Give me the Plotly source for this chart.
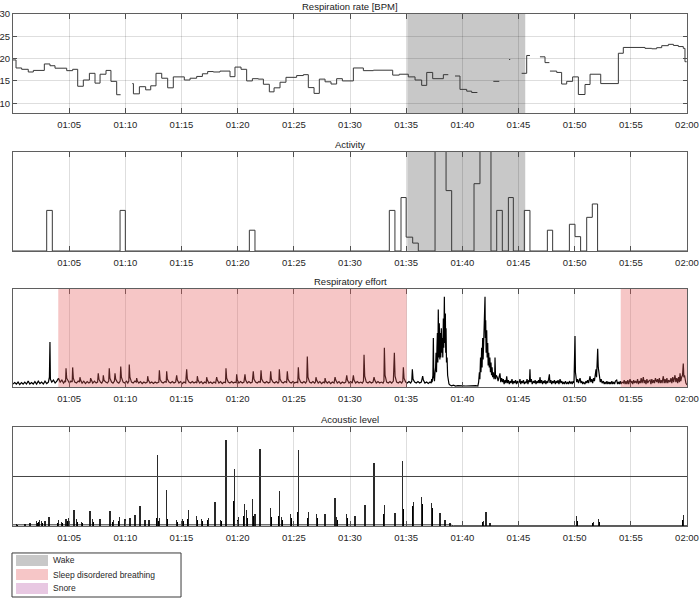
import pandas as pd
import plotly.graph_objects as go

BASE = pd.Timestamp("2021-01-01 01:00:00")


def at(minutes):
    return [BASE + pd.Timedelta(minutes=m) for m in minutes]


# ---------------- data (minutes after 01:00) ----------------
tick_minutes = [5, 10, 15, 20, 25, 30, 35, 40, 45, 50, 55, 60]
resp_ticks = [10, 15, 20, 25, 30]

wake_interval = (35.1, 45.6)
sdb_intervals = [(4.03, 35.05), (54.1, 60.0)]

resp_min = [0.0, 0.27, 0.77, 1.36, 1.81, 2.79, 3.29, 3.74, 4.78, 5.31, 5.76, 6.26, 6.80, 7.30, 7.75,
            8.28, 8.72, 9.23, 9.58, 9.59,
            10.62, 10.72, 11.25, 11.81, 12.26, 12.73, 13.24, 13.77, 14.27, 15.25, 15.76, 16.35, 16.86,
            17.33, 17.83, 18.43, 19.32, 19.76, 20.30, 20.80, 21.31, 21.84, 22.29, 22.82, 23.24, 23.77,
            24.30, 25.25, 25.85, 26.29, 26.80, 27.27, 27.78, 28.31, 28.81, 29.32, 30.30, 31.19, 32.08,
            33.80, 34.39, 35.19, 35.79, 36.38, 36.83, 37.36, 38.31, 38.75, 38.76,
            39.35, 39.79, 40.39, 40.83, 41.34, 41.35,
            42.76, 43.29, 43.30,
            44.16, 44.26, 44.27,
            45.28, 45.73, 46.02, 46.03,
            46.91, 47.36, 47.75, 47.76,
            47.80, 48.40, 48.84, 49.29, 49.82, 50.33, 50.92, 51.37, 52.32, 53.89, 54.33, 56.26, 56.86,
            57.30, 57.75, 58.34, 58.79, 59.23, 59.67, 59.82, 59.97]
resp_bpm = [19.7, 17.9, 17.6, 17.0, 17.35, 18.8, 18.4, 17.85, 17.3, 17.6, 13.8, 15.2, 16.7, 14.5, 16.5,
            17.35, 14.9, 11.9, 11.9, None,
            14.4, 12.1, 13.7, 13.0, 13.9, 16.7, 15.6, 13.45, 15.9, 15.2, 15.6, 16.0, 16.6,
            17.1, 17.0, 17.2, 15.95, 18.1, 17.6, 15.0, 15.5, 15.4, 14.25, 12.55, 13.45, 14.7,
            15.8, 16.2, 16.4, 13.5, 12.2, 15.4, 14.8, 14.3, 15.5, 15.0, 17.9, 17.3, 17.4,
            16.3, 16.5, 15.9, 15.2, 14.0, 16.9, 15.5, 16.4, 16.4, None,
            16.1, 13.1, 12.7, 12.4, 12.4, None,
            14.9, 14.9, None,
            19.8, 19.8, None,
            16.7, 20.7, 20.7, None,
            20.4, 19.1, 19.1, None,
            17.2, 16.9, 14.3, 14.9, 15.9, 11.95, 14.2, 16.5, 14.4, 21.2, 22.5, 22.3, 22.2,
            22.45, 22.9, 23.2, 22.95, 22.7, 22.3, 19.3, 19.3]

activity_min = [0.0, 3.0, 3.5, 9.53, 10.0, 21.04, 21.54, 33.5, 34.0, 34.54, 35.0, 35.58, 36.08,
                37.57, 38.55, 39.05, 41.04, 41.57, 42.55, 43.06, 43.56, 44.1, 44.54, 45.52, 46.02,
                47.57, 48.04, 49.53, 50.03, 50.53, 51.07, 51.57, 52.04, 60.0]
activity_val = [0.0, 0.41, 0.0, 0.41, 0.0, 0.21, 0.0, 0.41, 0.0, 0.54, 0.14, 0.08, 0.0,
                1.5, 0.61, 0.0, 0.68, 1.5, 0.0, 0.41, 0.0, 0.54, 0.0, 0.41, 0.0,
                0.21, 0.0, 0.27, 0.145, 0.0, 0.34, 0.475, 0.0, 0.0]

effort_samples = [
    (0.00, 0.03), (0.15, 0.045), (0.30, 0.03), (0.45, 0.05), (0.60, 0.025), (0.75, 0.045), (0.90, 0.03),
    (1.05, 0.05), (1.20, 0.03), (1.35, 0.06), (1.50, 0.03), (1.65, 0.045), (1.80, 0.03), (1.95, 0.055),
    (2.10, 0.03), (2.25, 0.06), (2.40, 0.035), (2.55, 0.05), (2.70, 0.03), (2.85, 0.06), (3.00, 0.035),
    (3.15, 0.05), (3.24, 0.10), (3.29, 0.46), (3.33, 0.08), (3.45, 0.05), (3.60, 0.07), (3.75, 0.04),
    (3.90, 0.06), (4.05, 0.09), (4.20, 0.05), (4.35, 0.07), (4.50, 0.04), (4.62, 0.06),
    (4.68, 0.05), (4.72, 0.19), (4.78, 0.09), (4.90, 0.06), (5.02, 0.04), (5.15, 0.06), (5.27, 0.05),
    (5.31, 0.20), (5.37, 0.09), (5.50, 0.05), (5.65, 0.04), (5.80, 0.06), (5.92, 0.05),
    (5.96, 0.10), (6.02, 0.07), (6.15, 0.04), (6.30, 0.06), (6.45, 0.035), (6.60, 0.055), (6.75, 0.04), (6.87, 0.05),
    (6.91, 0.09), (6.97, 0.07), (7.10, 0.04), (7.25, 0.06), (7.40, 0.04), (7.53, 0.05),
    (7.59, 0.14), (7.65, 0.08), (7.78, 0.05), (7.90, 0.04), (8.00, 0.06),
    (8.04, 0.12), (8.10, 0.07), (8.25, 0.05), (8.40, 0.04), (8.52, 0.06),
    (8.57, 0.19), (8.63, 0.09), (8.77, 0.05), (8.90, 0.04), (9.03, 0.06),
    (9.08, 0.14), (9.14, 0.08), (9.28, 0.05), (9.42, 0.04), (9.54, 0.06),
    (9.59, 0.21), (9.65, 0.10), (9.80, 0.05), (9.95, 0.04), (10.10, 0.06), (10.22, 0.04), (10.31, 0.06),
    (10.35, 0.23), (10.41, 0.10), (10.55, 0.05), (10.70, 0.04), (10.85, 0.06), (10.97, 0.05),
    (11.01, 0.09), (11.07, 0.06), (11.20, 0.04), (11.35, 0.055), (11.50, 0.035), (11.65, 0.05), (11.80, 0.04), (11.95, 0.05),
    (11.99, 0.11), (12.05, 0.07), (12.20, 0.04), (12.35, 0.05), (12.50, 0.035), (12.65, 0.05), (12.80, 0.04), (12.98, 0.05),
    (13.03, 0.17), (13.09, 0.08), (13.22, 0.05), (13.37, 0.04), (13.52, 0.055), (13.64, 0.05),
    (13.68, 0.16), (13.74, 0.08), (13.88, 0.05), (14.03, 0.04), (14.18, 0.055), (14.33, 0.04), (14.48, 0.05),
    (14.57, 0.12), (14.63, 0.07), (14.77, 0.04), (14.92, 0.055), (15.07, 0.035), (15.22, 0.05), (15.37, 0.04),
    (15.46, 0.18), (15.52, 0.08), (15.66, 0.05), (15.81, 0.04), (15.96, 0.055), (16.11, 0.04), (16.26, 0.05), (16.37, 0.04),
    (16.41, 0.11), (16.47, 0.07), (16.61, 0.04), (16.76, 0.055), (16.91, 0.035), (17.06, 0.05), (17.20, 0.04),
    (17.24, 0.10), (17.30, 0.07), (17.44, 0.04), (17.59, 0.05), (17.74, 0.035), (17.89, 0.05), (18.04, 0.04),
    (18.13, 0.10), (18.19, 0.07), (18.33, 0.04), (18.48, 0.055), (18.63, 0.035), (18.78, 0.05), (18.92, 0.045),
    (18.96, 0.19), (19.02, 0.09), (19.16, 0.05), (19.31, 0.04), (19.46, 0.055), (19.61, 0.04), (19.76, 0.05), (19.87, 0.045),
    (19.91, 0.13), (19.97, 0.07), (20.11, 0.04), (20.26, 0.055), (20.41, 0.04), (20.56, 0.05),
    (20.65, 0.13), (20.71, 0.07), (20.85, 0.04), (21.00, 0.055), (21.15, 0.04), (21.30, 0.05),
    (21.39, 0.16), (21.45, 0.08), (21.59, 0.05), (21.74, 0.04), (21.89, 0.055), (22.02, 0.045),
    (22.08, 0.17), (22.14, 0.08), (22.28, 0.05), (22.43, 0.04), (22.58, 0.055), (22.73, 0.04), (22.88, 0.05),
    (22.94, 0.16), (23.00, 0.08), (23.14, 0.05), (23.29, 0.04), (23.44, 0.055), (23.59, 0.04), (23.67, 0.05),
    (23.71, 0.18), (23.77, 0.08), (23.91, 0.05), (24.06, 0.04), (24.21, 0.055), (24.36, 0.045),
    (24.42, 0.16), (24.48, 0.08), (24.62, 0.05), (24.77, 0.04), (24.92, 0.055), (25.07, 0.04), (25.22, 0.05), (25.35, 0.045),
    (25.40, 0.20), (25.46, 0.09), (25.60, 0.05), (25.75, 0.04), (25.90, 0.055), (26.05, 0.04), (26.15, 0.06),
    (26.20, 0.31), (26.26, 0.10), (26.40, 0.05), (26.55, 0.04), (26.70, 0.055), (26.85, 0.04), (26.93, 0.05),
    (26.97, 0.10), (27.03, 0.07), (27.17, 0.04), (27.32, 0.055), (27.47, 0.035), (27.62, 0.05), (27.74, 0.04),
    (27.78, 0.09), (27.84, 0.06), (27.98, 0.04), (28.13, 0.055), (28.28, 0.035), (28.43, 0.05), (28.58, 0.04),
    (28.67, 0.10), (28.73, 0.07), (28.87, 0.04), (29.02, 0.055), (29.17, 0.035), (29.32, 0.05), (29.47, 0.04), (29.62, 0.05),
    (29.71, 0.12), (29.77, 0.07), (29.91, 0.04), (30.06, 0.055), (30.20, 0.04),
    (30.30, 0.12), (30.36, 0.07), (30.50, 0.04), (30.65, 0.055), (30.80, 0.04), (30.95, 0.05), (31.10, 0.04), (31.20, 0.06),
    (31.25, 0.33), (31.31, 0.11), (31.45, 0.05), (31.60, 0.04), (31.75, 0.055), (31.90, 0.04), (32.05, 0.05),
    (32.14, 0.10), (32.20, 0.07), (32.34, 0.04), (32.49, 0.055), (32.64, 0.04), (32.79, 0.05), (32.94, 0.04), (33.02, 0.06),
    (33.06, 0.40), (33.12, 0.12), (33.26, 0.05), (33.41, 0.04), (33.56, 0.055), (33.71, 0.04), (33.86, 0.06),
    (33.95, 0.35), (34.01, 0.11), (34.15, 0.05), (34.30, 0.04), (34.45, 0.055), (34.60, 0.04), (34.70, 0.06),
    (34.75, 0.20), (34.81, 0.09), (34.95, 0.05), (35.10, 0.04), (35.25, 0.055), (35.40, 0.04), (35.50, 0.06),
    (35.55, 0.18), (35.61, 0.08), (35.75, 0.05), (35.90, 0.04), (36.05, 0.055), (36.20, 0.04), (36.35, 0.05),
    (36.47, 0.11), (36.53, 0.07), (36.67, 0.04), (36.82, 0.05), (36.97, 0.035), (37.12, 0.05), (37.23, 0.04),
    (37.27, 0.08), (37.31, 0.05), (37.38, 0.12), (37.42, 0.50), (37.46, 0.10), (37.52, 0.06), (37.57, 0.15),
    (37.62, 0.20), (37.66, 0.35), (37.70, 0.15), (37.74, 0.40), (37.78, 0.55), (37.82, 0.25), (37.86, 0.79),
    (37.90, 0.30), (37.95, 0.65), (38.00, 0.28), (38.04, 0.55), (38.08, 0.30), (38.13, 0.60), (38.17, 0.35),
    (38.22, 0.50), (38.26, 0.30), (38.31, 0.70), (38.35, 0.40), (38.40, 0.92), (38.44, 0.45), (38.49, 0.75),
    (38.52, 0.35), (38.55, 0.60), (38.59, 0.25), (38.64, 0.30), (38.69, 0.12), (38.73, 0.10), (38.81, 0.03),
    (38.90, 0.02), (39.05, 0.012), (39.20, 0.018), (39.40, 0.01), (39.60, 0.014), (39.80, 0.01), (40.00, 0.012),
    (40.30, 0.01), (40.60, 0.013), (40.90, 0.01), (41.20, 0.013), (41.38, 0.01), (41.45, 0.05),
    (41.52, 0.15), (41.56, 0.08), (41.62, 0.30), (41.66, 0.15), (41.72, 0.40), (41.76, 0.20), (41.81, 0.50),
    (41.85, 0.28), (41.90, 0.45), (41.94, 0.60), (42.02, 0.92), (42.05, 0.50), (42.08, 0.68), (42.12, 0.35),
    (42.17, 0.58), (42.21, 0.30), (42.26, 0.45), (42.30, 0.22), (42.35, 0.35), (42.40, 0.20), (42.45, 0.30),
    (42.50, 0.15), (42.55, 0.25), (42.60, 0.12), (42.65, 0.20), (42.70, 0.10), (42.76, 0.15), (42.82, 0.08),
    (42.88, 0.12), (42.91, 0.30), (42.96, 0.08), (43.02, 0.12), (43.11, 0.10), (43.18, 0.06), (43.25, 0.10),
    (43.35, 0.14), (43.42, 0.05), (43.50, 0.09), (43.58, 0.05), (43.65, 0.08),
    (43.72, 0.03), (43.80, 0.07), (43.88, 0.04), (43.95, 0.11), (44.02, 0.04), (44.10, 0.07), (44.18, 0.03),
    (44.26, 0.06), (44.34, 0.04), (44.42, 0.08), (44.50, 0.03), (44.58, 0.06), (44.66, 0.04), (44.74, 0.07),
    (44.82, 0.03), (44.90, 0.06), (44.98, 0.04), (45.06, 0.05), (45.13, 0.08), (45.20, 0.03), (45.28, 0.06),
    (45.36, 0.04), (45.44, 0.07), (45.52, 0.03), (45.60, 0.05), (45.68, 0.04), (45.76, 0.08), (45.84, 0.03),
    (45.92, 0.07), (45.98, 0.05), (46.02, 0.18), (46.06, 0.05), (46.14, 0.08), (46.22, 0.03), (46.32, 0.06),
    (46.40, 0.04), (46.48, 0.07), (46.56, 0.03), (46.64, 0.06), (46.72, 0.04), (46.80, 0.07), (46.86, 0.04),
    (46.91, 0.10), (46.98, 0.04), (47.06, 0.07), (47.14, 0.03), (47.22, 0.06), (47.30, 0.04), (47.36, 0.07),
    (47.44, 0.03), (47.52, 0.06), (47.60, 0.04), (47.68, 0.08), (47.75, 0.13), (47.80, 0.04), (47.88, 0.07),
    (47.96, 0.03), (48.04, 0.06), (48.12, 0.04), (48.20, 0.07), (48.28, 0.03), (48.36, 0.06), (48.44, 0.04),
    (48.52, 0.07), (48.60, 0.03), (48.70, 0.08), (48.78, 0.04), (48.86, 0.06), (48.94, 0.03), (49.02, 0.05),
    (49.10, 0.03), (49.18, 0.06), (49.29, 0.03), (49.38, 0.05), (49.46, 0.03), (49.54, 0.06), (49.62, 0.04),
    (49.70, 0.05), (49.78, 0.03), (49.86, 0.06), (49.94, 0.04), (49.99, 0.20), (50.03, 0.52), (50.07, 0.15),
    (50.12, 0.09), (50.18, 0.05), (50.26, 0.08), (50.34, 0.04), (50.42, 0.07), (50.48, 0.09), (50.56, 0.04),
    (50.64, 0.06), (50.72, 0.03), (50.80, 0.05), (50.92, 0.03), (51.00, 0.06), (51.08, 0.04), (51.16, 0.07),
    (51.24, 0.04), (51.32, 0.09), (51.37, 0.11), (51.44, 0.05), (51.52, 0.08), (51.60, 0.04), (51.68, 0.09),
    (51.76, 0.06), (51.84, 0.14), (51.90, 0.18), (51.95, 0.10), (52.00, 0.25), (52.05, 0.39), (52.10, 0.20),
    (52.15, 0.14), (52.20, 0.11), (52.28, 0.05), (52.36, 0.08), (52.44, 0.04), (52.55, 0.06), (52.63, 0.03),
    (52.71, 0.05), (52.79, 0.03), (52.87, 0.06), (52.95, 0.03), (53.03, 0.05), (53.11, 0.03), (53.15, 0.05),
    (53.23, 0.03), (53.31, 0.06), (53.39, 0.03), (53.47, 0.05), (53.55, 0.03), (53.63, 0.06), (53.74, 0.07),
    (53.82, 0.03), (53.90, 0.05), (53.98, 0.03), (54.06, 0.06), (54.14, 0.03), (54.22, 0.05), (54.33, 0.04),
    (54.41, 0.07), (54.49, 0.03), (54.57, 0.06), (54.65, 0.03), (54.73, 0.07), (54.81, 0.03), (54.93, 0.08),
    (55.01, 0.04), (55.09, 0.06), (55.17, 0.03), (55.25, 0.07), (55.33, 0.04), (55.41, 0.06), (55.52, 0.04),
    (55.60, 0.08), (55.68, 0.03), (55.76, 0.06), (55.84, 0.04), (55.92, 0.09), (56.00, 0.04), (56.11, 0.10),
    (56.19, 0.04), (56.27, 0.07), (56.35, 0.03), (56.43, 0.08), (56.51, 0.04), (56.59, 0.06), (56.71, 0.07),
    (56.79, 0.03), (56.87, 0.08), (56.95, 0.04), (57.03, 0.07), (57.11, 0.04), (57.19, 0.09), (57.30, 0.05),
    (57.38, 0.08), (57.46, 0.04), (57.54, 0.09), (57.62, 0.04), (57.70, 0.07), (57.78, 0.04), (57.89, 0.11),
    (57.97, 0.04), (58.05, 0.08), (58.13, 0.04), (58.21, 0.09), (58.29, 0.04), (58.37, 0.07), (58.49, 0.05),
    (58.57, 0.09), (58.65, 0.04), (58.73, 0.10), (58.81, 0.05), (58.93, 0.12), (59.01, 0.05), (59.09, 0.09),
    (59.17, 0.04), (59.25, 0.10), (59.33, 0.05), (59.38, 0.14), (59.45, 0.06), (59.52, 0.10), (59.60, 0.12),
    (59.67, 0.24), (59.72, 0.10), (59.78, 0.12), (59.82, 0.07), (59.90, 0.04), (60.00, 0.02),
]
effort_min = [p[0] for p in effort_samples]
effort_val = [p[1] for p in effort_samples]

acoustic_min = [0.33, 1.07, 1.51, 2.11, 2.34, 2.55, 2.85, 3.20, 4.04, 4.33, 4.72, 4.93, 5.43, 5.67, 6.11,
                6.85, 7.09, 7.75, 8.64, 8.93, 9.47, 9.97, 10.42, 10.86, 11.31, 11.75, 12.11, 12.85, 13.03,
                13.68, 14.57, 15.10, 15.61, 16.35, 16.80, 17.39, 17.98, 18.49, 18.96, 19.70, 20.06, 20.59,
                20.80, 21.34, 21.54, 21.99, 22.94, 23.71, 23.92, 24.72, 25.40, 26.29, 27.03, 27.78, 28.67,
                28.81, 29.70, 30.45, 31.34, 32.14, 33.06, 34.01, 34.69, 35.64, 36.38, 37.27, 38.01, 38.46,
                38.90, 41.87, 42.11, 42.46, 50.18, 51.66, 52.14, 59.68]
acoustic_peak = [0.017, 0.024, 0.03, 0.05, 0.057, 0.05, 0.05, 0.09, 0.057, 0.04, 0.074, 0.084, 0.158, 0.074, 0.04,
                 0.152, 0.074, 0.074, 0.148, 0.057, 0.09, 0.074, 0.084, 0.108, 0.199, 0.057, 0.057, 0.72, 0.084,
                 0.36, 0.057, 0.074, 0.158, 0.098, 0.074, 0.084, 0.242, 0.064, 0.865, 0.58, 0.09, 0.226,
                 0.158, 0.276, 0.125, 0.78, 0.18, 0.35, 0.09, 0.125, 0.764, 0.14, 0.125, 0.125, 0.286,
                 0.09, 0.125, 0.098, 0.209, 0.64, 0.209, 0.13, 0.657, 0.242, 0.293, 0.236, 0.135, 0.057,
                 0.03, 0.05, 0.14, 0.03, 0.098, 0.04, 0.07, 0.108]
acoustic_blob = [0.015, 0.02, 0.025, 0.03, 0.04, 0.03, 0.035, 0.04, 0.035, 0.03, 0.04, 0.05, 0.06, 0.04, 0.03,
                 0.05, 0.04, 0.045, 0.06, 0.04, 0.05, 0.045, 0.05, 0.06, 0.07, 0.04, 0.04, 0.08, 0.05,
                 0.07, 0.045, 0.05, 0.07, 0.06, 0.05, 0.06, 0.08, 0.05, 0.30, 0.25, 0.06, 0.10,
                 0.08, 0.10, 0.07, 0.12, 0.09, 0.10, 0.06, 0.08, 0.14, 0.08, 0.08, 0.08, 0.10,
                 0.06, 0.08, 0.07, 0.18, 0.35, 0.12, 0.10, 0.17, 0.20, 0.22, 0.18, 0.08, 0.04,
                 0.02, 0.04, 0.06, 0.02, 0.05, 0.03, 0.04, 0.06]
acoustic_base_min = [0.0, 38.9, 39.2, 60.0]
acoustic_base_val = [0.012, 0.012, 0.003, 0.003]
acoustic_threshold = 0.5

legend_labels = ["Wake", "Sleep disordered breathing", "Snore"]
legend_colors = ["#c8c8c8", "#f6c6c7", "#e8c8e2"]

# ---------------- figure ----------------
FONT = "Liberation Sans, Arial, Helvetica, sans-serif"
GRID = "rgba(0,0,0,0.13)"
FRAME = "#5f5f5f"

fig = go.Figure()

fig.add_trace(go.Scatter(x=at(resp_min), y=resp_bpm, mode="lines", line=dict(color="#383838", width=1, shape="hv"),
                         connectgaps=False, xaxis="x", yaxis="y", showlegend=False))
fig.add_trace(go.Scatter(x=at(activity_min), y=activity_val, mode="lines",
                         line=dict(color="#383838", width=1, shape="hv"), xaxis="x2", yaxis="y2", showlegend=False))
fig.add_trace(go.Scatter(x=at(effort_min), y=effort_val, mode="lines", line=dict(color="#000000", width=1.2),
                         xaxis="x3", yaxis="y3", showlegend=False))
fig.add_trace(go.Scatter(x=at(acoustic_base_min), y=acoustic_base_val, mode="lines",
                         line=dict(color="#000000", width=0.8), xaxis="x4", yaxis="y4", showlegend=False))
fig.add_trace(go.Bar(x=at(acoustic_min), y=acoustic_blob, width=11000, marker=dict(color="#000000", line=dict(width=0)),
                     xaxis="x4", yaxis="y4", showlegend=False))
fig.add_trace(go.Bar(x=at(acoustic_min), y=acoustic_peak, width=2800, marker=dict(color="#2a2a2a", line=dict(width=0)),
                     xaxis="x4", yaxis="y4", showlegend=False))
fig.add_trace(go.Scatter(x=at([0, 60]), y=[acoustic_threshold, acoustic_threshold], mode="lines",
                         line=dict(color="#444444", width=1), xaxis="x4", yaxis="y4", showlegend=False))

domains = [[0.8066, 1.0], [0.5371, 0.7305], [0.2715, 0.4629], [0.0, 0.1934]]
titles = ["Respiration rate [BPM]", "Activity", "Respiratory effort", "Acoustic level"]
xrange_ = [BASE, BASE + pd.Timedelta(minutes=60)]

layout = dict(width=700, height=599, margin=dict(l=13, r=13, t=14, b=73),
              paper_bgcolor="white", plot_bgcolor="white", barmode="overlay", bargap=0,
              font=dict(family=FONT, size=9.5, color="#262626"), showlegend=False, hovermode=False)

for i in range(4):
    sfx = "" if i == 0 else str(i + 1)
    layout["xaxis" + sfx] = dict(type="date", range=xrange_, anchor="y" + sfx, domain=[0, 1],
                                 tickvals=at(tick_minutes), tickformat="%H:%M", showgrid=True,
                                 gridcolor=GRID, gridwidth=1, showline=True, linecolor=FRAME, linewidth=1,
                                 mirror="ticks", ticks="inside", ticklen=5, tickcolor="#505050", zeroline=False,
                                 ticklabelstandoff=3,
                                 tickfont=dict(size=9.5, color="#262626"), automargin=False)
    ya = dict(domain=domains[i], anchor="x" + sfx, showline=True, linecolor=FRAME, linewidth=1, mirror=True,
              zeroline=False, automargin=False, fixedrange=True)
    if i == 0:
        ya.update(range=[7.8, 30], tickvals=resp_ticks, ticks="inside", ticklen=4, tickcolor="#505050",
                  mirror="ticks", showgrid=True, gridcolor=GRID, tickfont=dict(size=9.5, color="#262626"))
    else:
        ya.update(range=[0, 1], showticklabels=False, ticks="", showgrid=False)
    layout["yaxis" + sfx] = ya

shapes = []
for ax in ["", "2"]:
    shapes.append(dict(type="rect", xref="x" + ax, yref=("y" + ax) + " domain",
                       x0=at([wake_interval[0]])[0], x1=at([wake_interval[1]])[0], y0=0, y1=1,
                       fillcolor="#c8c8c8", line=dict(width=0), layer="below"))
for s, e in sdb_intervals:
    shapes.append(dict(type="rect", xref="x3", yref="y3 domain", x0=at([s])[0], x1=at([e])[0], y0=0, y1=1,
                       fillcolor="rgb(228,91,91)", opacity=0.35, line=dict(width=0), layer="above"))

# legend box (paper coordinates)
shapes.append(dict(type="rect", xref="paper", yref="paper", x0=-0.0015, x1=0.2493, y0=-0.1387, y1=-0.0527,
                   fillcolor="white", line=dict(color="#3a3a3a", width=1)))
sw_y = [(-0.0781, -0.0566), (-0.1055, -0.0840), (-0.1328, -0.1113)]
annotations = []
for (y0, y1), lab, col in zip(sw_y, legend_labels, legend_colors):
    shapes.append(dict(type="rect", xref="paper", yref="paper", x0=0.0045, x1=0.0519, y0=y0, y1=y1,
                       fillcolor=col, line=dict(width=0)))
    annotations.append(dict(xref="paper", yref="paper", x=0.0564, y=(y0 + y1) / 2, text=lab, showarrow=False,
                            xanchor="left", yanchor="middle", font=dict(size=8.5, color="#262626", family=FONT)))

for i in range(4):
    annotations.append(dict(xref="paper", yref="paper", x=0.5, y=domains[i][1], text=titles[i], showarrow=False,
                            xanchor="center", yanchor="bottom", yshift=0,
                            font=dict(size=9.5, color="#1a1a1a", family=FONT)))

layout["shapes"] = shapes
layout["annotations"] = annotations
fig.update_layout(**layout)

fig.write_html("out.html", config={"displayModeBar": False},
               post_script="document.body.style.margin='0px';document.body.style.overflow='hidden';")
